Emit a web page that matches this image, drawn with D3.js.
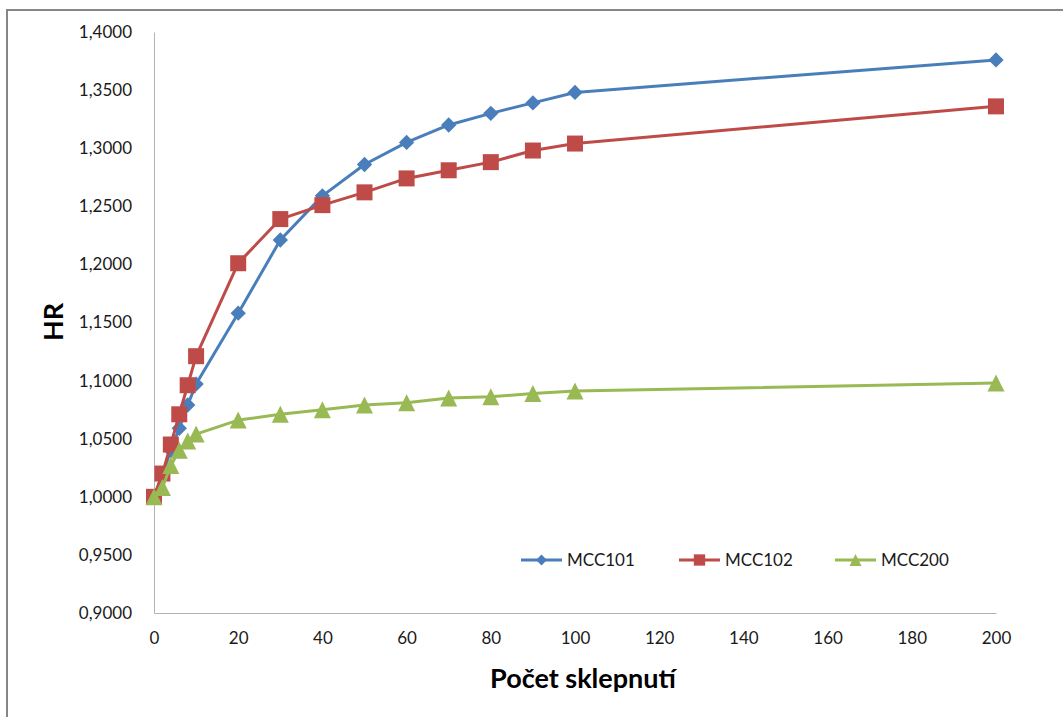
<!DOCTYPE html>
<meta charset="utf-8">
<style>

body {
  margin: 0;
  background: #fff;
}

text {
  font-family: Lato, "Open Sans", sans-serif;
  fill: #1a1a1a;
}

.tick text {
  font-size: 17px;
}

.axis-title {
  font-weight: bold;
  font-size: 27px;
  fill: #000;
}

.legend text {
  font-size: 17px;
}

</style>
<body>
<script src="https://cdnjs.cloudflare.com/ajax/libs/d3/7.8.5/d3.min.js"></script>
<script>

var xValues = [0, 2, 4, 6, 8, 10, 20, 30, 40, 50, 60, 70, 80, 90, 100, 200];
var mcc101 = [1.000, 1.019, 1.040, 1.059, 1.079, 1.097, 1.158, 1.221, 1.259, 1.286, 1.305, 1.320, 1.330, 1.339, 1.348, 1.376];
var mcc102 = [1.000, 1.020, 1.045, 1.071, 1.096, 1.121, 1.201, 1.239, 1.251, 1.262, 1.274, 1.281, 1.288, 1.298, 1.304, 1.336];
var mcc200 = [1.000, 1.008, 1.027, 1.040, 1.048, 1.054, 1.066, 1.071, 1.075, 1.079, 1.081, 1.085, 1.086, 1.089, 1.091, 1.098];
var seriesNames = ["MCC101", "MCC102", "MCC200"];
var xTicks = [0, 20, 40, 60, 80, 100, 120, 140, 160, 180, 200];
var yTicks = [0.90, 0.95, 1.00, 1.05, 1.10, 1.15, 1.20, 1.25, 1.30, 1.35, 1.40];

var width = 1063,
    height = 717;

var plotLeft = 154, plotRight = 996, plotTop = 32, plotBottom = 613;

// Excel style triangle: as wide as it is tall, centred on its box
var excelTriangle = {
  draw: function(context, size) {
    var s = Math.sqrt(size) / 2;
    context.moveTo(0, -s);
    context.lineTo(s, s);
    context.lineTo(-s, s);
    context.closePath();
  }
};

var colors = ["#4a7ebb", "#be4b48", "#98b954"];
var symbols = [d3.symbolDiamond2, d3.symbolSquare, excelTriangle];
var symbolSizes = [150, 256, 289];

var locale = d3.formatLocale({decimal: ",", thousands: " ", grouping: [3], currency: ["", " Kč"]});
var fmt = locale.format(".4f");

var svg = d3.select("body").append("svg")
    .attr("width", width)
    .attr("height", height);

svg.append("rect")
    .attr("x", 7)
    .attr("y", 10)
    .attr("width", 1100)
    .attr("height", 800)
    .attr("fill", "#fff")
    .attr("stroke", "#868686")
    .attr("stroke-width", 2);

var x = d3.scaleLinear().domain([0, 200]).range([plotLeft, plotRight]);
var y = d3.scaleLinear().domain([0.9, 1.4]).range([plotBottom, plotTop]);

// axes
var yAxis = svg.append("g")
    .attr("transform", "translate(" + plotLeft + ",0)")
    .call(d3.axisLeft(y).tickValues(yTicks).tickFormat(fmt).tickSize(0).tickPadding(22));
yAxis.select(".domain").attr("stroke", "#b3b3b3");

var xAxis = svg.append("g")
    .attr("transform", "translate(0," + plotBottom + ")")
    .call(d3.axisBottom(x).tickValues(xTicks).tickFormat(d3.format("d")).tickSize(0).tickPadding(19));
xAxis.select(".domain").attr("stroke", "#b3b3b3");

svg.selectAll(".tick text").attr("fill", "#1a1a1a");

// axis titles
svg.append("text")
    .attr("class", "axis-title")
    .attr("transform", "translate(63,322) rotate(-90)")
    .attr("text-anchor", "middle")
    .text("HR");

svg.append("text")
    .attr("class", "axis-title")
    .attr("x", 583)
    .attr("y", 688)
    .attr("text-anchor", "middle")
    .text("Počet sklepnutí");

// series
var series = [mcc101, mcc102, mcc200].map(function(vals, i) {
  return {
    name: seriesNames[i],
    points: vals.map(function(v, j) { return [xValues[j], v]; })
  };
});

var line = d3.line()
    .x(function(d) { return x(d[0]); })
    .y(function(d) { return y(d[1]); });

var g = svg.selectAll(".series")
    .data(series)
  .enter().append("g")
    .attr("class", "series");

g.append("path")
    .attr("d", function(d) { return line(d.points); })
    .attr("fill", "none")
    .attr("stroke", function(d, i) { return colors[i]; })
    .attr("stroke-width", 3)
    .attr("stroke-linejoin", "round");

g.each(function(d, i) {
  d3.select(this).selectAll(".marker")
      .data(d.points)
    .enter().append("path")
      .attr("class", "marker")
      .attr("transform", function(p) { return "translate(" + x(p[0]) + "," + y(p[1]) + ")"; })
      .attr("d", d3.symbol().type(symbols[i]).size(symbolSizes[i]))
      .attr("fill", colors[i]);
});

// legend
var legendX = [521, 679, 835];
var legend = svg.append("g")
    .attr("class", "legend")
    .attr("transform", "translate(0,560)");

var item = legend.selectAll("g")
    .data(seriesNames)
  .enter().append("g")
    .attr("transform", function(d, i) { return "translate(" + legendX[i] + ",0)"; });

item.append("line")
    .attr("x1", 0)
    .attr("x2", 41)
    .attr("stroke", function(d, i) { return colors[i]; })
    .attr("stroke-width", 3);

item.append("path")
    .attr("transform", "translate(20.5,0)")
    .attr("d", function(d, i) { return d3.symbol().type(symbols[i]).size(symbolSizes[i] * 0.5)(); })
    .attr("fill", function(d, i) { return colors[i]; });

item.append("text")
    .attr("x", 46)
    .attr("dy", "0.35em")
    .text(function(d) { return d; });

</script>
